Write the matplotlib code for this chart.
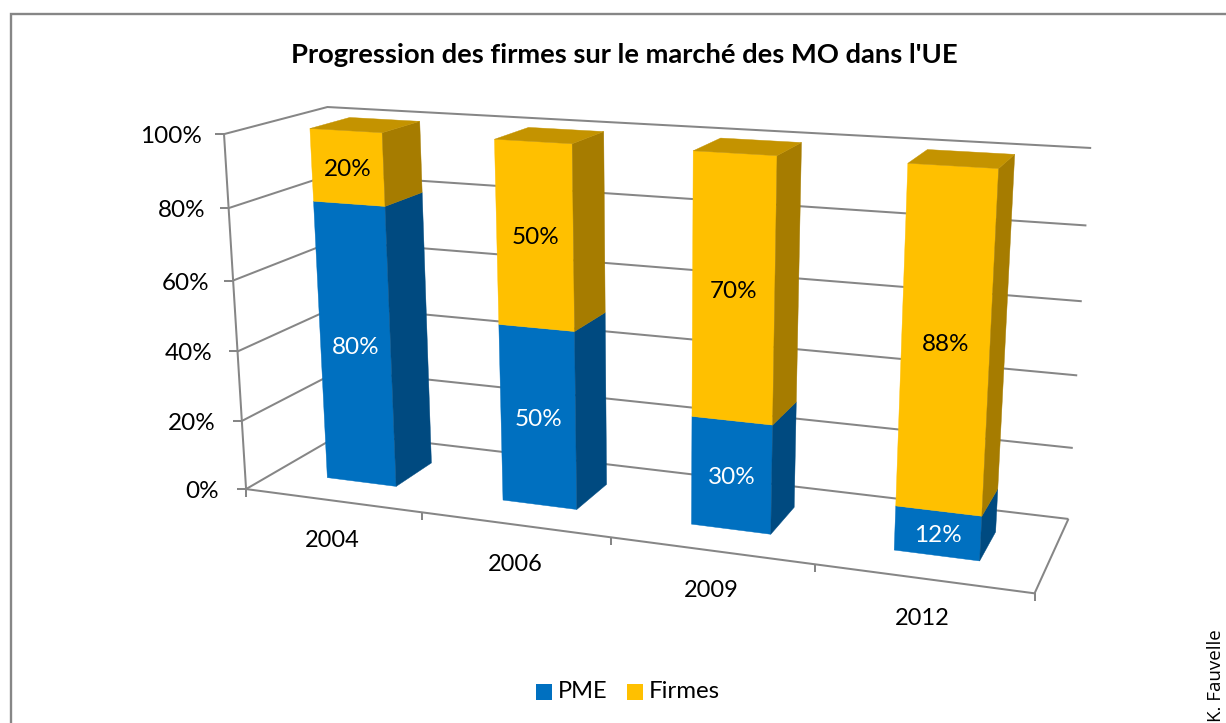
import numpy as np
import matplotlib
matplotlib.use("Agg")
import matplotlib.pyplot as plt

W, H = 1226, 723
title = "Progression des firmes sur le marché des MO dans l'UE"
categories = ["2004", "2006", "2009", "2012"]
pme = [80, 50, 30, 12]
firmes = [20, 50, 70, 88]
y_ticks = [0, 20, 40, 60, 80, 100]
series_names = ["PME", "Firmes"]
credit = "K. Fauvelle"

BLUE, BLUE_S = "#0070C0", "#004A80"
GOLD, GOLD_S, GOLD_T = "#FFC000", "#A67C00", "#C49300"
GREY = "#868686"
FONT = "Lato"

# camera: calibrate a 3D -> screen projective map on the drawn box
# (x: category units, y: percent / 100, z: 0 front .. 1 back)
anchors = [
    (0, 0, 0, 246, 489), (1, 0, 0, 421.5, 512.5), (2, 0, 0, 611, 537.5),
    (3, 0, 0, 814, 564.5), (4, 0, 0, 1035, 593),
    (4, 0, 1, 1068, 518), (4, .2, 1, 1073, 448), (4, .4, 1, 1078, 376),
    (4, .6, 1, 1082, 301), (4, .8, 1, 1086, 226), (4, 1, 1, 1091, 148),
    (0, 1, 1, 327, 107), (0, 0, 1, 343, 433),
    (0, 1, 0, 224, 134), (0, .8, 0, 229, 208), (0, .6, 0, 233, 280),
    (0, .4, 0, 238, 351), (0, .2, 0, 242, 422),
]
A = []
for x, y, z, u, v in anchors:
    A.append([x, y, z, 1, 0, 0, 0, 0, -u*x, -u*y, -u*z, -u])
    A.append([0, 0, 0, 0, x, y, z, 1, -v*x, -v*y, -v*z, -v])
P = np.linalg.svd(np.array(A, float))[2][-1].reshape(3, 4)


def pr(x, y, z):
    q = P @ np.array([x, y, z, 1.0])
    return q[0]/q[2], q[1]/q[2]


fig = plt.figure(figsize=(W/100, H/100), dpi=100)
ax = fig.add_axes([0, 0, 1, 1])
ax.set_xlim(0, W)
ax.set_ylim(H, 0)
ax.axis("off")


def line(pts, lw=1.45, c=GREY, zo=1):
    ax.plot([p[0] for p in pts], [p[1] for p in pts], color=c, lw=lw,
            solid_capstyle="butt", solid_joinstyle="miter", zorder=zo)


def face(pts, c, zo=3):
    ax.fill([p[0] for p in pts], [p[1] for p in pts], facecolor=c, edgecolor=c,
            lw=0.3, zorder=zo)


# chart frame
line([(10.5, H), (10.5, 13.5), (W, 13.5)], lw=1.7)

# walls, floor, gridlines
n = len(categories)
for t in y_ticks:
    y = t/100
    a, b, c = pr(0, y, 0), pr(0, y, 1), pr(n, y, 1)
    line([a, b, c])
    line([(a[0]-9, a[1]), a])
    ax.text(a[0]-22-5*(1-y), a[1]+2.5, f"{t}%", ha="right", va="center", fontsize=17.5,
            family=FONT, color="black")
line([pr(0, 0, 0), pr(0, 1, 0)])
line([pr(0, 0, 0), pr(n, 0, 0), pr(n, 0, 1)])
for i in range(n+1):
    a = pr(i, 0, 0)
    line([a, (a[0], a[1]+8)])
for i, c in enumerate(categories):
    a = pr(i+.5, 0, 0)
    ax.text(a[0], a[1]+40, c, ha="center", va="center", fontsize=17,
            family=FONT, color="black")

# stacked 3D bars
X0, X1, Z0, Z1 = .3, .7, .3, .7
for i in range(n):
    l, r = i+X0, i+X1
    y0, y1 = 0, pme[i]/100
    y2 = y1 + firmes[i]/100
    for lo, hi, fc, sc, txt, tc in [(y0, y1, BLUE, BLUE_S, pme[i], "white"),
                                    (y1, y2, GOLD, GOLD_S, firmes[i], "black")]:
        face([pr(l, lo, Z0), pr(r, lo, Z0), pr(r, hi, Z0), pr(l, hi, Z0)], fc)
        face([pr(r, lo, Z0), pr(r, lo, Z1), pr(r, hi, Z1), pr(r, hi, Z0)], sc)
        m = pr(i+.5, (lo+hi)/2, Z0)
        ax.text(m[0]+.5, m[1]+2, f"{txt}%", ha="center", va="center", fontsize=17.5,
                family=FONT, color=tc, zorder=5)
    face([pr(l, y2, Z0), pr(r, y2, Z0), pr(r, y2, Z1), pr(l, y2, Z1)], GOLD_T)

ax.text(624, 55, title, ha="center", va="center", fontsize=19.7, weight="bold",
        family=FONT, color="black")

# legend
ax.scatter([543.5], [691.5], marker="s", s=117, color=BLUE, linewidths=0)
ax.text(558, 692, series_names[0], ha="left", va="center", fontsize=17, family=FONT)
ax.scatter([634.5], [691.5], marker="s", s=117, color=GOLD, linewidths=0)
ax.text(649, 692, series_names[1], ha="left", va="center", fontsize=17.3, family=FONT)

ax.text(1216, 722, credit, rotation=90, ha="center", va="bottom", fontsize=13.5, family="Open Sans")

fig.savefig("out.png", dpi=100)
